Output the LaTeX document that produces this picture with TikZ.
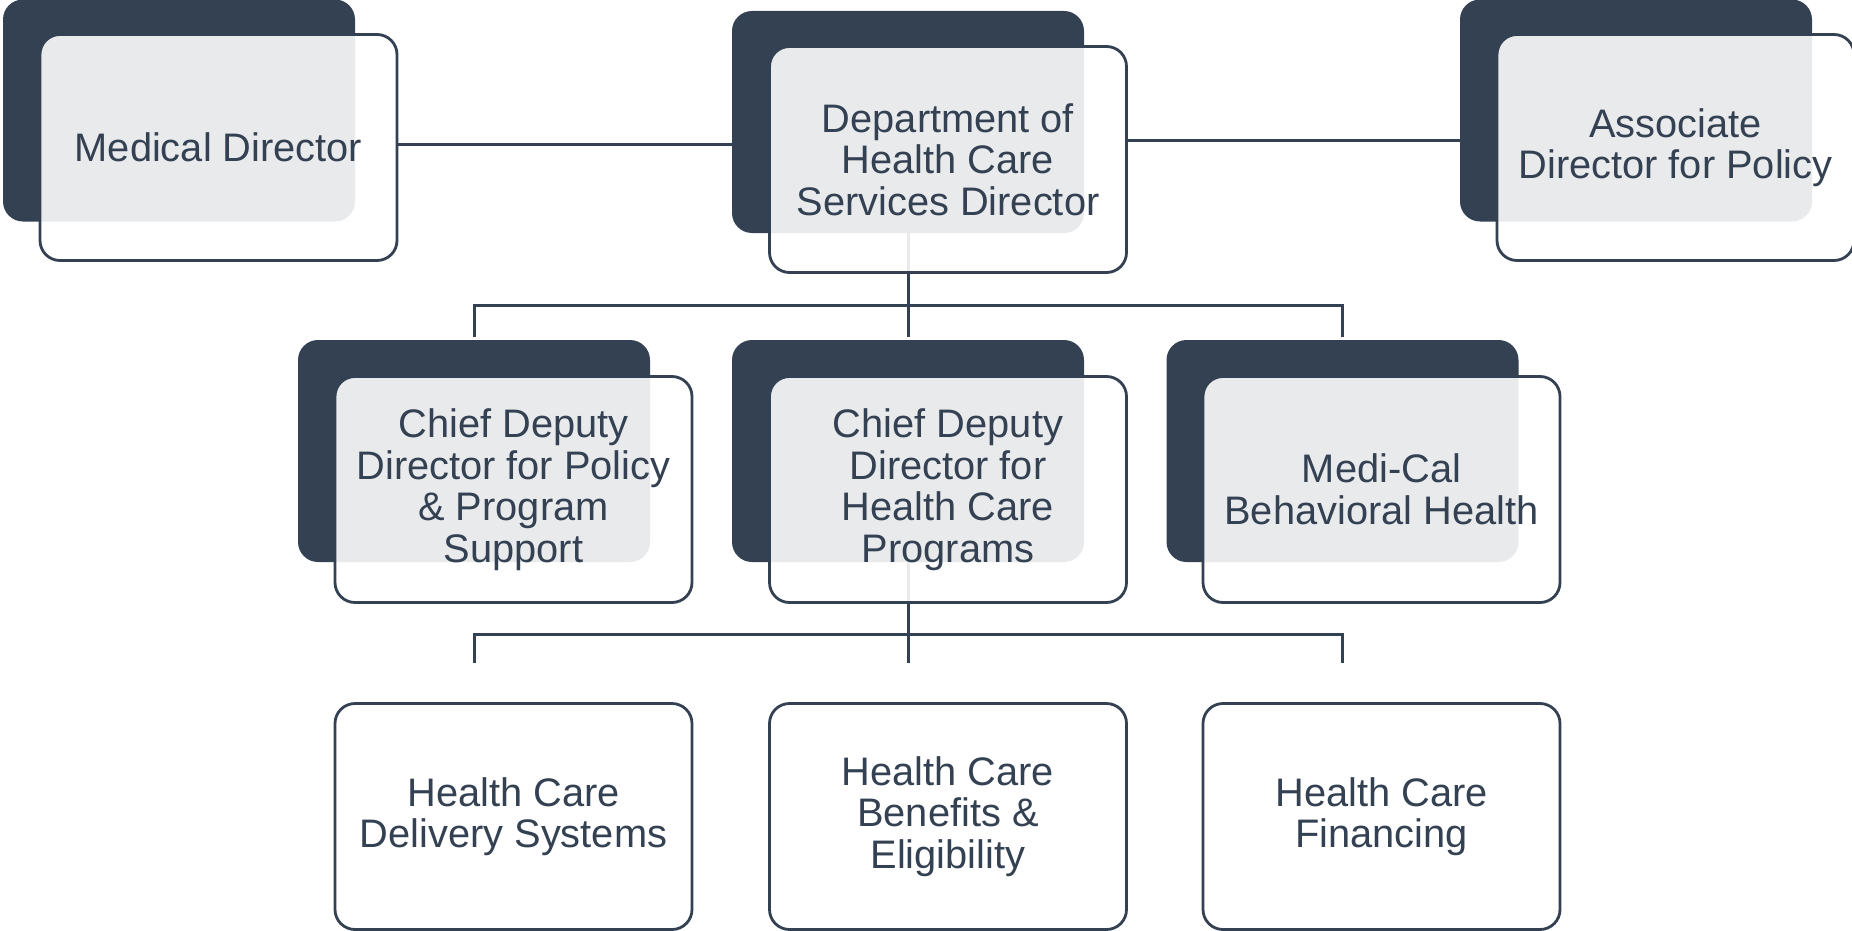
\documentclass[tikz,border=0pt]{standalone}
\usepackage{fontspec}
\setmainfont{Liberation Sans}
\definecolor{navy}{RGB}{52,65,82}
\pgfdeclarelayer{bg}
\pgfdeclarelayer{mid}
\pgfsetlayers{bg,mid,main}
\tikzset{
  darkbox/.style={fill=navy, rounded corners=20pt, minimum width=352pt, minimum height=222pt, inner sep=0pt},
  frontbox/.style={draw=navy, line width=2.8pt, fill=white, fill opacity=0.89, text opacity=1,
    rounded corners=20pt, minimum width=357pt, minimum height=226pt, inner sep=0pt,
    align=center, text=navy, font=\fontsize{39.8}{41.5}\selectfont},
  plainbox/.style={frontbox, fill opacity=1},
  conn/.style={draw=navy, line width=3pt}
}
\begin{document}
\begin{tikzpicture}[x=1pt,y=-1pt]
\useasboundingbox (0,0) rectangle (1852,931);
\begin{pgfonlayer}{bg}
\node[darkbox] (d1) at (179,110.5) {};
\node[darkbox] (d2) at (908,122) {};
\node[darkbox] (d3) at (1636,110.5) {};
\node[darkbox] (d4) at (474,451) {};
\node[darkbox] (d5) at (908,451) {};
\node[darkbox] (d6) at (1342.5,451) {};
\end{pgfonlayer}
\node[frontbox] (f1) at (218.5,147.5) {Medical Director};
\node[frontbox] (f2) at (948,159.5) {Department of\\Health Care\\Services Director};
\node[frontbox] (f3) at (1675.5,147.5) {Associate\\Director for Policy};
\node[frontbox] (f4) at (513.5,489.5) {Chief Deputy\\Director for Policy\\\& Program\\Support};
\node[frontbox] (f5) at (948,489.5) {Chief Deputy\\Director for\\Health Care\\Programs};
\node[frontbox] (f6) at (1381.5,489.5) {Medi-Cal\\Behavioral Health};
\node[plainbox] (b1) at (513.5,816.5) {Health Care\\Delivery Systems};
\node[plainbox] (b2) at (948,816.5) {Health Care\\Benefits \&\\Eligibility};
\node[plainbox] (b3) at (1381.5,816.5) {Health Care\\Financing};
\coordinate (bus1) at (908,305);
\coordinate (bus2) at (908,634);
\begin{pgfonlayer}{mid}
\draw[conn] ([yshift=2.5pt]f1.east) -- ([yshift=2.5pt]f1.east -| d2.west);
\draw[conn] ([yshift=18.5pt]f2.east) -- ([yshift=18.5pt]f2.east -| d3.west);
\draw[conn] (d2.south) -- ([yshift=3pt]d5.north);
\draw[conn] ([yshift=3pt]d4.north) |- (bus1) -| ([yshift=3pt]d6.north);
\draw[conn] (d5.south) -- ([yshift=39pt]b2.north -| d5.south);
\draw[conn] ([yshift=39pt]b1.north -| d4.south) |- (bus2) -| ([yshift=39pt]b3.north -| d6.south);
\end{pgfonlayer}
\end{tikzpicture}
\end{document}
